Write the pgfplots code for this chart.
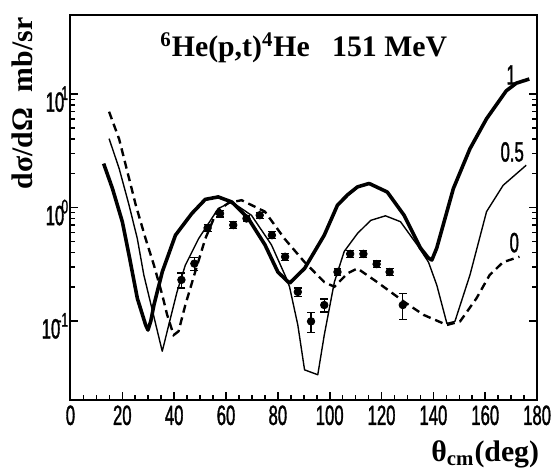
\documentclass[border=0pt]{standalone}
\usepackage{pgfplots}
\pgfplotsset{compat=1.18}
\usepackage{fontspec}
\setmainfont{Liberation Serif}
\newfontfamily\narrow[FakeStretch=0.6,FakeBold=1.2]{Liberation Sans}
\newcommand\tenp[1]{10\kern-0.1em\raisebox{0.42em}{\fontsize{10}{10}\selectfont #1}}

% angular distributions, 6He(p,t)4He at 151 MeV
\pgfplotstableread{
x y
12.8 2.44
16.2 1.47
20.0 0.75
22.6 0.38
25.8 0.158
29.0 0.092
29.9 0.083
31.0 0.10
32.2 0.138
35.4 0.27
40.5 0.57
46.8 0.885
52.0 1.18
57.0 1.24
62.2 1.12
68.6 0.80
75.0 0.47
80.0 0.27
84.5 0.215
90.3 0.29
97.9 0.57
103.0 1.05
107.0 1.30
110.7 1.52
115.2 1.63
122.2 1.37
128.6 0.86
135.0 0.44
138.0 0.36
139.4 0.344
141.3 0.44
147.7 1.47
154.1 3.3
160.5 6.07
168.1 10.7
172.0 12.5
177.0 13.6
}\curveone

\pgfplotstableread{
x y
14.9 4.05
18.8 2.2
22.6 1.05
25.8 0.53
28.3 0.254
35.4 0.054
41.1 0.18
44.3 0.31
49.4 0.53
57.0 0.98
62.2 1.12
69.8 0.855
77.5 0.47
83.2 0.24
84.5 0.20
87.7 0.092
90.3 0.037
95.4 0.0335
97.9 0.075
101.8 0.22
105.6 0.41
110.7 0.59
115.8 0.77
121.5 0.845
127.3 0.75
133.7 0.47
138.1 0.33
141.3 0.207
145.2 0.095
148.3 0.099
154.1 0.254
160.5 0.92
166.9 1.57
175.8 2.36
}\curvehalf

\pgfplotstableread{
x y
14.9 7.0
18.8 4.0
25.2 1.05
29.0 0.53
32.2 0.31
35.4 0.17
37.3 0.113
39.8 0.075
41.7 0.081
44.3 0.138
48.1 0.27
52.0 0.53
56.4 0.92
61.0 1.10
66.0 1.16
75.0 0.92
82.6 0.53
90.3 0.33
97.9 0.22
101.8 0.20
106.9 0.263
110.7 0.29
118.3 0.22
128.6 0.148
136.2 0.113
145.2 0.092
150.3 0.099
156.6 0.158
161.7 0.254
166.9 0.33
173.2 0.368
}\curvezero

\pgfplotstableread{
x y err
42.8 0.23 0.035
47.8 0.32 0.04
52.9 0.66 0.05
57.7 0.885 0.06
62.8 0.70 0.05
67.9 0.80 0.05
73.0 0.855 0.05
77.7 0.57 0.04
82.8 0.368 0.025
87.7 0.18 0.015
92.8 0.099 0.02
97.9 0.138 0.018
103.0 0.27 0.02
107.9 0.39 0.025
113.0 0.39 0.025
118.1 0.317 0.02
123.1 0.27 0.02
128.2 0.138 0.035
}\expdata

\begin{document}
\begin{tikzpicture}
\begin{axis}[
    scale only axis,
    width=235pt, height=194pt,
    xmin=0, xmax=180,
    ymode=log, ymin=0.02, ymax=50,
    xtick={0,20,...,180},
    xticklabels={0,20,40,60,80,100,120,140,160,180},
    minor x tick num=3,
    ytick={0.1,1,10},
    yticklabels={\tenp{-1},\tenp{0},\tenp{1}},
    xtick pos=lower,
    ytick pos=both,
    tick align=inside,
    major tick length=4pt, minor tick length=2.5pt,
    axis line style={line width=1pt},
    tick style={line width=0.8pt, black},
    ticklabel style={font=\narrow\fontsize{14}{14}\selectfont, inner sep=1pt},
    xticklabel style={yshift=-1.5pt},
    yticklabel style={yshift=-2.5pt},
    xlabel={\bfseries θ\textsubscript{cm}(deg)},
    xlabel style={font=\fontsize{15}{15}\selectfont, at={(axis description cs:1.005,-0.14)}, anchor=east, inner sep=0pt},
    ylabel={\bfseries dσ/dΩ\hspace{8pt}mb/sr},
    ylabel style={font=\fontsize{15}{15}\selectfont, at={(axis description cs:-0.104,0.77)}, anchor=center, inner sep=0pt},
    clip=false,
]
\path (rel axis cs:-0.151,-0.1727) rectangle (rel axis cs:1.0255,1.0387);
\addplot[black, line width=1.8pt, line join=round] table {\curveone};
\addplot[black, line width=0.7pt, line join=round] table {\curvehalf};
\addplot[black, line width=1.2pt, dash pattern=on 4pt off 2.5pt] table {\curvezero};
\addplot[black, only marks, mark=*, mark size=1.9pt,
    error bars/.cd, y dir=both, y explicit,
    error bar style={line width=0.6pt},
    error mark options={rotate=90, mark size=2pt, line width=0.6pt}]
    table[y error=err] {\expdata};
\node[font=\narrow\fontsize{14}{14}\selectfont] at (axis cs:170,14.8) {1};
\node[font=\narrow\fontsize{14}{14}\selectfont] at (axis cs:170.4,3.09) {0.5};
\node[font=\narrow\fontsize{14}{14}\selectfont] at (axis cs:171.2,0.49) {0};
\node[font=\bfseries\fontsize{15}{15}\selectfont] at (rel axis cs:0.5,0.914)
    {\textsuperscript{6}He(p,t)\textsuperscript{4}He\hspace{0.75em}151 MeV};
\end{axis}
\end{tikzpicture}
\end{document}
